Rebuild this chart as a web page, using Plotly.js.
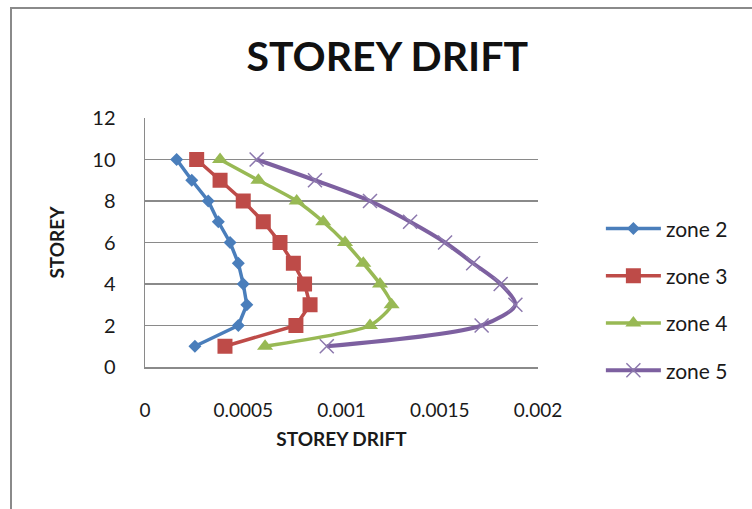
<!DOCTYPE html>
<html>
<head>
<meta charset="utf-8">
<script src="https://cdn.plot.ly/plotly-3.0.1.min.js"></script>
<style>
  html, body { margin: 0; padding: 0; background: #ffffff; }
  #wrap { position: relative; width: 752px; height: 509px; overflow: hidden; }
  #chart { width: 752px; height: 509px; }
  #frame { position: absolute; left: 10px; top: 7px; width: 760px; height: 520px;
           border: 2px solid #8a8a8a; pointer-events: none; box-sizing: border-box; }
</style>
</head>
<body>
<div id="wrap">
  <div id="chart"></div>
  <div id="frame"></div>
</div>
<script>
// Storey numbers (y) and storey drift per seismic zone (x)
const storeys = [1, 2, 3, 4, 5, 6, 7, 8, 9, 10];
const zone2 = [0.000254, 0.000475, 0.000518, 0.000500, 0.000475, 0.000433, 0.000373, 0.000322, 0.000238, 0.000161];
const zone3 = [0.000407, 0.000768, 0.000840, 0.000812, 0.000755, 0.000687, 0.000602, 0.000500, 0.000382, 0.000263];
const zone4 = [0.000611, 0.001145, 0.001255, 0.001196, 0.001111, 0.001018, 0.000907, 0.000772, 0.000577, 0.000382];
const zone5 = [0.000925, 0.001713, 0.001885, 0.001810, 0.001670, 0.001527, 0.001349, 0.001145, 0.000865, 0.000568];
const seriesNames = ["zone 2", "zone 3", "zone 4", "zone 5"];
const xTickVals = [0, 0.0005, 0.001, 0.0015, 0.002];
const xTickText = ["0", "0.0005", "0.001", "0.0015", "0.002"];
const yTickVals = [0, 2, 4, 6, 8, 10, 12];

const FONT = "Lato, 'Open Sans', 'DejaVu Sans', sans-serif";

const traces = [
  {
    x: zone2, y: storeys, name: seriesNames[0], legendgroup: "g2",
    mode: "lines+markers", type: "scatter",
    line: { color: "#4A7EBB", width: 3.5 },
    marker: { symbol: "diamond", size: 10, color: "#4A7EBB" }
  },
  {
    x: zone3, y: storeys, name: seriesNames[1], legendgroup: "g3",
    mode: "lines+markers", type: "scatter",
    line: { color: "#BE4B48", width: 3.5 },
    marker: { symbol: "square", size: 15, color: "#BE4B48" }
  },
  {
    x: zone4, y: storeys, name: seriesNames[2], legendgroup: "g4",
    mode: "lines+markers", type: "scatter",
    line: { color: "#98B954", width: 3.5, shape: "spline", smoothing: 0.6 },
    marker: { symbol: "triangle-up", size: 14, color: "#98B954" }
  },
  {
    x: zone5, y: storeys, name: seriesNames[3], legendgroup: "g5",
    mode: "lines+markers", type: "scatter",
    line: { color: "#7D60A0", width: 4, shape: "spline", smoothing: 0.8 },
    marker: { symbol: "x-thin", size: 14, color: "#8C78AD",
              line: { color: "#8C78AD", width: 1.5 } }
  }
];

const layout = {
  width: 752, height: 509,
  paper_bgcolor: "#ffffff", plot_bgcolor: "#ffffff",
  margin: { l: 145, r: 214, t: 118, b: 142, pad: 0 },
  font: { family: FONT, size: 19, color: "#1a1a1a" },
  title: {
    text: "<b>STOREY DRIFT</b>",
    font: { family: FONT, size: 41, color: "#111111" },
    xref: "container", yref: "container",
    x: 0.515, xanchor: "center", y: 1 - 57 / 509, yanchor: "middle"
  },
  xaxis: {
    range: [0, 0.002], tickvals: xTickVals, ticktext: xTickText,
    showgrid: false, zeroline: false,
    showline: true, linecolor: "#8a8a8a", linewidth: 1.5,
    ticks: "", ticklabelstandoff: 26,
    tickfont: { family: FONT, size: 19, color: "#1a1a1a" },
    title: { text: "<b>STOREY DRIFT</b>", font: { family: FONT, size: 19, color: "#1a1a1a" }, standoff: 12 },
    fixedrange: true
  },
  yaxis: {
    range: [0, 12], tickvals: yTickVals,
    showgrid: true, gridcolor: "#8a8a8a", gridwidth: 1.5,
    zeroline: false,
    showline: true, linecolor: "#8a8a8a", linewidth: 1.5,
    ticks: "", ticklabelstandoff: 24,
    tickfont: { family: FONT, size: 20, color: "#1a1a1a" },
    title: { text: "<b>STOREY</b>", font: { family: FONT, size: 19, color: "#1a1a1a" }, standoff: 22 },
    fixedrange: true
  },
  legend: {
    x: 1.16, xanchor: "left", y: 0.27, yanchor: "middle",
    font: { family: FONT, size: 21, color: "#1a1a1a" },
    tracegroupgap: 17, itemwidth: 55,
    bgcolor: "rgba(0,0,0,0)"
  },
  showlegend: true
};

Plotly.newPlot("chart", traces, layout, { displayModeBar: false, staticPlot: true });
</script>
</body>
</html>
